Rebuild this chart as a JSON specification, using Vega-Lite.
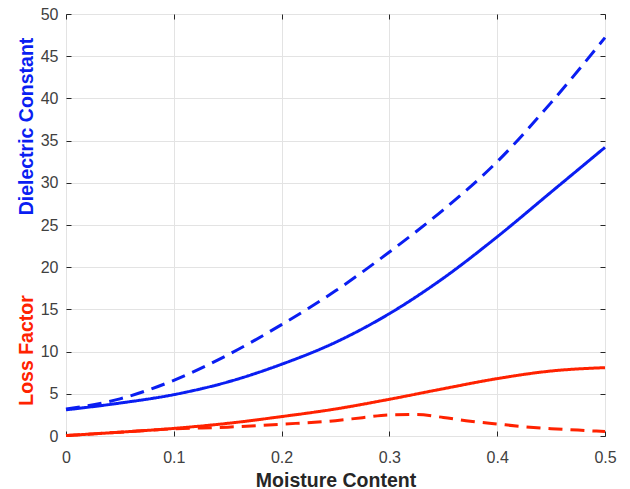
{
  "$schema": "https://vega.github.io/schema/vega-lite/v6.json",
  "width": 539,
  "height": 422,
  "autosize": {"type": "none"},
  "padding": {"left": 66, "top": 14, "right": 25, "bottom": 53},
  "background": "white",
  "config": {
    "view": {"stroke": "#262626", "strokeWidth": 1},
    "font": "Liberation Sans",
    "axis": {
      "labelFont": "Liberation Sans",
      "labelFontSize": 16,
      "labelColor": "#404040",
      "labelFlush": false,
      "labelOverlap": false,
      "titleFont": "Liberation Sans",
      "gridColor": "#e3e3e3",
      "gridWidth": 1,
      "tickColor": "#262626",
      "domain": false
    }
  },
  "data": {
    "values": [
      {"x": 0, "v": 3.1, "q": "Dielectric", "c": "solid"},
      {"x": 0.05, "v": 3.9, "q": "Dielectric", "c": "solid"},
      {"x": 0.1, "v": 4.9, "q": "Dielectric", "c": "solid"},
      {"x": 0.15, "v": 6.4, "q": "Dielectric", "c": "solid"},
      {"x": 0.2, "v": 8.5, "q": "Dielectric", "c": "solid"},
      {"x": 0.25, "v": 11.1, "q": "Dielectric", "c": "solid"},
      {"x": 0.3, "v": 14.5, "q": "Dielectric", "c": "solid"},
      {"x": 0.35, "v": 18.7, "q": "Dielectric", "c": "solid"},
      {"x": 0.4, "v": 23.6, "q": "Dielectric", "c": "solid"},
      {"x": 0.45, "v": 28.9, "q": "Dielectric", "c": "solid"},
      {"x": 0.5, "v": 34.2, "q": "Dielectric", "c": "solid"},
      {"x": 0, "v": 3.2, "q": "Dielectric", "c": "dashed"},
      {"x": 0.05, "v": 4.4, "q": "Dielectric", "c": "dashed"},
      {"x": 0.1, "v": 6.6, "q": "Dielectric", "c": "dashed"},
      {"x": 0.15, "v": 9.6, "q": "Dielectric", "c": "dashed"},
      {"x": 0.2, "v": 13.2, "q": "Dielectric", "c": "dashed"},
      {"x": 0.25, "v": 17.2, "q": "Dielectric", "c": "dashed"},
      {"x": 0.3, "v": 21.8, "q": "Dielectric", "c": "dashed"},
      {"x": 0.35, "v": 26.8, "q": "Dielectric", "c": "dashed"},
      {"x": 0.4, "v": 32.5, "q": "Dielectric", "c": "dashed"},
      {"x": 0.45, "v": 39.5, "q": "Dielectric", "c": "dashed"},
      {"x": 0.5, "v": 47.2, "q": "Dielectric", "c": "dashed"},
      {"x": 0, "v": 0.05, "q": "Loss", "c": "solid"},
      {"x": 0.05, "v": 0.45, "q": "Loss", "c": "solid"},
      {"x": 0.1, "v": 0.9, "q": "Loss", "c": "solid"},
      {"x": 0.15, "v": 1.5, "q": "Loss", "c": "solid"},
      {"x": 0.2, "v": 2.3, "q": "Loss", "c": "solid"},
      {"x": 0.25, "v": 3.2, "q": "Loss", "c": "solid"},
      {"x": 0.3, "v": 4.35, "q": "Loss", "c": "solid"},
      {"x": 0.35, "v": 5.6, "q": "Loss", "c": "solid"},
      {"x": 0.4, "v": 6.8, "q": "Loss", "c": "solid"},
      {"x": 0.45, "v": 7.7, "q": "Loss", "c": "solid"},
      {"x": 0.5, "v": 8.1, "q": "Loss", "c": "solid"},
      {"x": 0, "v": 0.05, "q": "Loss", "c": "dashed"},
      {"x": 0.05, "v": 0.45, "q": "Loss", "c": "dashed"},
      {"x": 0.1, "v": 0.85, "q": "Loss", "c": "dashed"},
      {"x": 0.15, "v": 1.05, "q": "Loss", "c": "dashed"},
      {"x": 0.2, "v": 1.4, "q": "Loss", "c": "dashed"},
      {"x": 0.25, "v": 1.82, "q": "Loss", "c": "dashed"},
      {"x": 0.275, "v": 2.17, "q": "Loss", "c": "dashed"},
      {"x": 0.3, "v": 2.5, "q": "Loss", "c": "dashed"},
      {"x": 0.325, "v": 2.55, "q": "Loss", "c": "dashed"},
      {"x": 0.35, "v": 2.2, "q": "Loss", "c": "dashed"},
      {"x": 0.375, "v": 1.75, "q": "Loss", "c": "dashed"},
      {"x": 0.4, "v": 1.42, "q": "Loss", "c": "dashed"},
      {"x": 0.425, "v": 1.1, "q": "Loss", "c": "dashed"},
      {"x": 0.45, "v": 0.87, "q": "Loss", "c": "dashed"},
      {"x": 0.475, "v": 0.7, "q": "Loss", "c": "dashed"},
      {"x": 0.5, "v": 0.52, "q": "Loss", "c": "dashed"}
    ]
  },
  "layer": [
    {
      "transform": [{"filter": "datum.q == 'Dielectric'"}],
      "mark": {"type": "line", "strokeWidth": 3, "interpolate": "monotone"},
      "encoding": {
        "x": {
          "field": "x", "type": "quantitative",
          "scale": {"domain": [0, 0.5], "nice": false},
          "axis": {
            "orient": "bottom", "values": [0, 0.1, 0.2, 0.3, 0.4, 0.5], "format": ".1~f",
            "grid": true, "tickSize": -5, "labelPadding": 18,
            "title": "Moisture Content", "titleFontSize": 19.5, "titleFontWeight": "bold",
            "titleColor": "#262626", "titleBaseline": "alphabetic", "titleY": 50
          }
        },
        "y": {
          "field": "v", "type": "quantitative",
          "scale": {"domain": [0, 50], "nice": false},
          "axis": {
            "orient": "left", "values": [0, 5, 10, 15, 20, 25, 30, 35, 40, 45, 50],
            "grid": true, "tickSize": -5, "labelPadding": 13,
            "title": "Dielectric Constant", "titleFontSize": 19.5, "titleFontWeight": "bold",
            "titleColor": "#0a1ef2", "titleAngle": -90, "titleBaseline": "alphabetic",
            "titleAlign": "center", "titleX": -34, "titleY": 112
          }
        },
        "color": {"field": "q", "type": "nominal", "scale": {"domain": ["Dielectric", "Loss"], "range": ["#0a1ef2", "#ff2200"]}, "legend": null},
        "strokeDash": {"field": "c", "type": "nominal", "scale": {"domain": ["solid", "dashed"], "range": [[1, 0], [14, 8]]}, "legend": null}
      }
    },
    {
      "transform": [{"filter": "datum.q == 'Loss'"}],
      "mark": {"type": "line", "strokeWidth": 3, "interpolate": "monotone"},
      "encoding": {
        "x": {
          "field": "x", "type": "quantitative",
          "scale": {"domain": [0, 0.5], "nice": false},
          "axis": {
            "orient": "top", "values": [0, 0.1, 0.2, 0.3, 0.4, 0.5],
            "grid": false, "labels": false, "tickSize": -5, "title": null
          }
        },
        "y": {
          "field": "v", "type": "quantitative",
          "scale": {"domain": [0, 50], "nice": false},
          "axis": {
            "orient": "right", "values": [0, 5, 10, 15, 20, 25, 30, 35, 40, 45, 50],
            "grid": false, "labels": false, "tickSize": -5,
            "title": "Loss Factor", "titleFontSize": 19.5, "titleFontWeight": "bold",
            "titleColor": "#ff2200", "titleAngle": -90, "titleBaseline": "alphabetic",
            "titleAlign": "center", "titleX": -573, "titleY": 336
          }
        },
        "color": {"field": "q", "type": "nominal", "scale": {"domain": ["Dielectric", "Loss"], "range": ["#0a1ef2", "#ff2200"]}, "legend": null},
        "strokeDash": {"field": "c", "type": "nominal", "scale": {"domain": ["solid", "dashed"], "range": [[1, 0], [14, 8]]}, "legend": null}
      }
    }
  ],
  "resolve": {"scale": {"y": "independent"}, "axis": {"x": "independent", "y": "independent"}}
}
